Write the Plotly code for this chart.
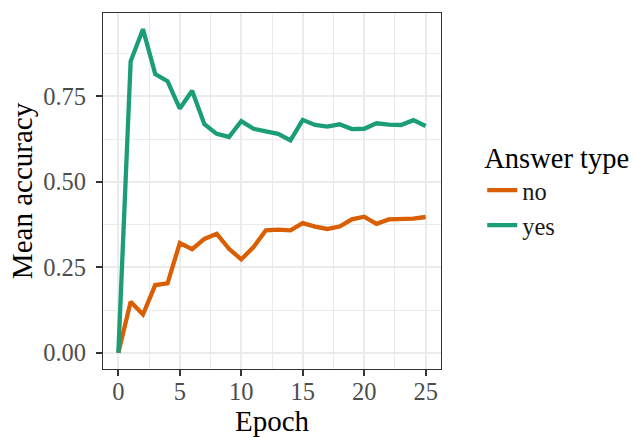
import plotly.graph_objects as go

epochs = list(range(26))
yes_acc = [0.0, 0.852, 0.946, 0.815, 0.794, 0.714, 0.766, 0.668, 0.640, 0.631, 0.677,
           0.655, 0.647, 0.640, 0.621, 0.681, 0.666, 0.661, 0.668, 0.654, 0.655,
           0.671, 0.667, 0.666, 0.680, 0.663]
no_acc = [0.0, 0.149, 0.112, 0.198, 0.203, 0.321, 0.303, 0.333, 0.348, 0.304, 0.273,
          0.309, 0.358, 0.360, 0.358, 0.379, 0.369, 0.362, 0.369, 0.390, 0.398,
          0.377, 0.390, 0.390, 0.392, 0.397]
x_ticks = [0, 5, 10, 15, 20, 25]
y_ticks = [0.0, 0.25, 0.5, 0.75]
y_tick_labels = ["0.00", "0.25", "0.50", "0.75"]

font_family = "Liberation Serif, Times New Roman, serif"

fig = go.Figure()
fig.add_trace(go.Scatter(x=epochs, y=no_acc, mode="lines", name="no",
                         line=dict(color="#D95F02", width=4.3)))
fig.add_trace(go.Scatter(x=epochs, y=yes_acc, mode="lines", name="yes",
                         line=dict(color="#1B9E77", width=4.3)))

fig.update_layout(
    width=634, height=437,
    margin=dict(l=103, r=193, t=13, b=68, autoexpand=False),
    paper_bgcolor="white", plot_bgcolor="white",
    font=dict(family=font_family, color="#1a1a1a"),
    legend=dict(
        title=dict(text="Answer type", font=dict(size=28.5, color="black")),
        font=dict(size=24.5, color="#1a1a1a"),
        x=1.122, xanchor="left", y=0.505, yanchor="middle",
        tracegroupgap=4,
    ),
)
fig.update_xaxes(
    range=[-1.25, 26.25], tickvals=x_ticks, ticktext=[str(v) for v in x_ticks],
    showgrid=True, gridcolor="#EBEBEB", gridwidth=2,
    minor=dict(dtick=2.5, tick0=0, showgrid=True, gridcolor="#EBEBEB", gridwidth=1),
    ticks="outside", ticklen=6, tickwidth=1.5, tickcolor="#333333",
    ticklabelstandoff=-6,
    tickfont=dict(size=24.5, color="#4d4d4d"),
    title=dict(text="Epoch", font=dict(size=29, color="black"), standoff=7),
    showline=True, linecolor="#333333", linewidth=1.2, mirror=True, zeroline=False,
    automargin=False,
)
fig.update_yaxes(
    range=[-0.0473, 0.9933], tickvals=y_ticks, ticktext=y_tick_labels,
    showgrid=True, gridcolor="#EBEBEB", gridwidth=2,
    minor=dict(dtick=0.125, tick0=0, showgrid=True, gridcolor="#EBEBEB", gridwidth=1),
    ticks="outside", ticklen=6, tickwidth=1.5, tickcolor="#333333",
    ticklabelstandoff=5,
    tickfont=dict(size=24.5, color="#4d4d4d"),
    title=dict(text="Mean accuracy", font=dict(size=29, color="black"), standoff=1),
    showline=True, linecolor="#333333", linewidth=1.2, mirror=True, zeroline=False,
    automargin=False,
)

fig.write_html("out.html", config={"displayModeBar": False},
               post_script="document.body.style.margin='0';")
